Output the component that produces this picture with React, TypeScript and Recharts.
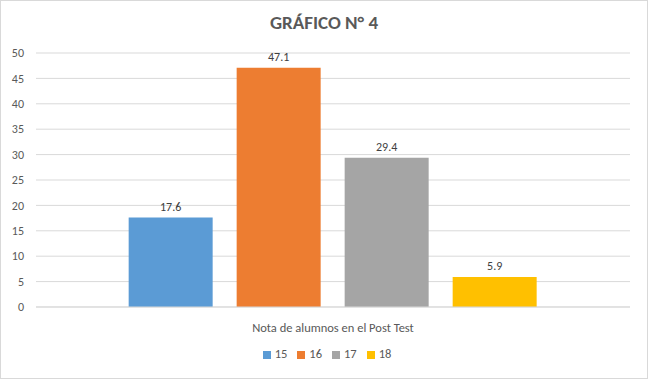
import { Bar, BarChart, CartesianGrid, LabelList, Legend, XAxis, YAxis } from "recharts"

const category = "Nota de alumnos en el Post Test"
const seriesNames = ["15", "16", "17", "18"]
const seriesValues = [17.6, 47.1, 29.4, 5.9]
const seriesColors = ["#5b9bd5", "#ed7d31", "#a5a5a5", "#ffc000"]
const yTicks = [0, 5, 10, 15, 20, 25, 30, 35, 40, 45, 50]

const row: Record<string, string | number> = { name: category }
seriesNames.forEach((s, i) => {
  row[s] = seriesValues[i]
})
const data = [row]

const font = "Carlito, Calibri, 'Open Sans', sans-serif"

export default function App() {
  return (
    <div
      style={{
        position: "absolute",
        left: 0,
        top: 0,
        width: 648,
        height: 379,
        border: "1px solid #d9d9d9",
        boxSizing: "border-box",
        background: "#fff",
        fontFamily: font,
      }}
    >
      <div
        style={{
          position: "absolute",
          top: 10,
          width: "100%",
          textAlign: "center",
          fontSize: 19,
          fontWeight: 700,
          color: "#595959",
        }}
      >
        GRÁFICO N° 4
      </div>
      <BarChart
        width={646}
        height={377}
        data={data}
        margin={{ top: 52, right: 17, left: -1, bottom: 26 }}
        barCategoryGap="15.6%"
        barGap={24}
        style={{ position: "absolute", top: 0, left: 0 }}
      >
        <CartesianGrid vertical={false} stroke="#d9d9d9" />
        <XAxis
          dataKey="name"
          axisLine={{ stroke: "#d9d9d9" }}
          tickLine={false}
          tickMargin={10}
          height={30}
          tick={{ fill: "#595959", fontSize: 12.5, fontFamily: font }}
        />
        <YAxis
          domain={[0, 50]}
          ticks={yTicks}
          width={36}
          axisLine={false}
          tickLine={false}
          tickMargin={6}
          tick={{ fill: "#595959", fontSize: 12, fontFamily: font }}
        />
        <Legend
          verticalAlign="bottom"
          iconType="square"
          iconSize={8}
          wrapperStyle={{ fontSize: 12.5, color: "#595959", fontFamily: font, bottom: 17, left: 16 }}
          formatter={(v) => <span style={{ color: "#595959" }}>{v}</span>}
        />
        {seriesNames.map((s, i) => (
          <Bar key={s} dataKey={s} fill={seriesColors[i]} isAnimationActive={false}>
            <LabelList dataKey={s} position="top" offset={7} fill="#404040" fontSize={12} fontFamily={font} />
          </Bar>
        ))}
      </BarChart>
    </div>
  )
}
